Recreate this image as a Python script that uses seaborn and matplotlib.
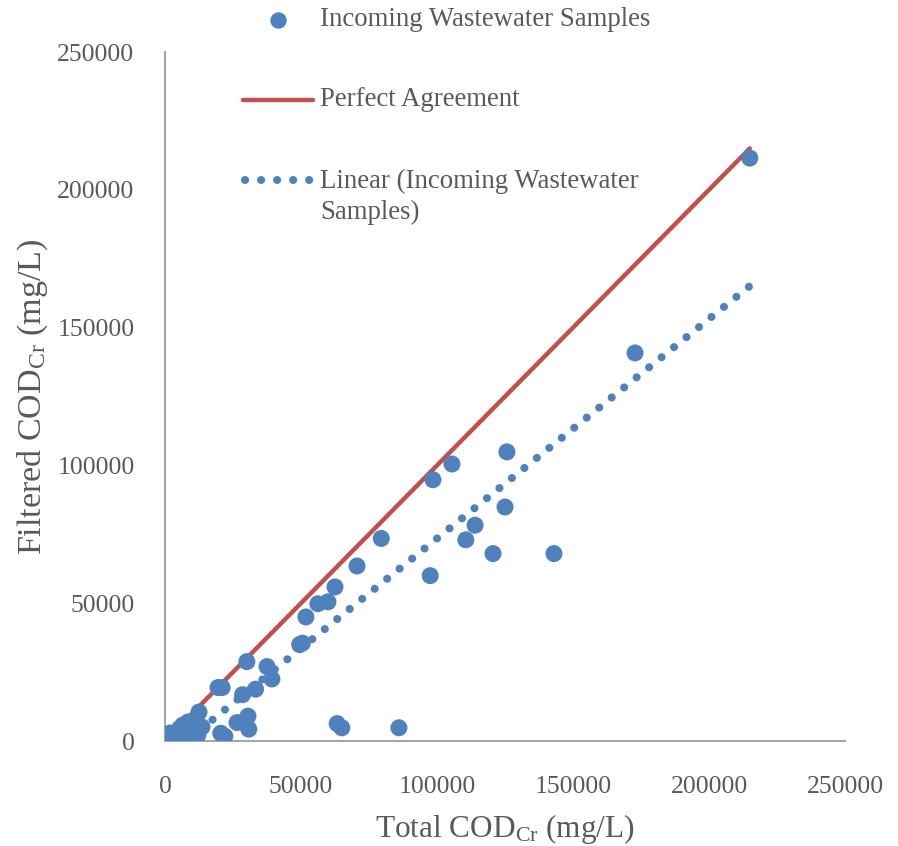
import numpy as np
import pandas as pd
import matplotlib
matplotlib.use("Agg")
import matplotlib.pyplot as plt
import seaborn as sns
from matplotlib.lines import Line2D

# ---- data ----
total_cod = [
    215000, 172800, 125700, 105500, 98500, 125000, 114000, 110600, 120600, 143000,
    97500, 79500, 70600, 62500, 59900, 56200, 51800, 49500, 50500, 63300,
    65000, 86000, 30100, 37500, 39300, 19500, 21000, 33300, 28500, 12500,
    30500, 26500, 30800, 20500, 22000, 500, 1800, 4800, 6600, 8500,
    11000, 8100, 12100, 3700, 5500, 9900, 13600, 2500, 7000,
]
filtered_cod = [
    211500, 140800, 104900, 100500, 94800, 84900, 78300, 73000, 68000, 68000,
    60000, 73500, 63500, 55900, 50500, 49800, 45000, 35000, 35500, 6300,
    4800, 4800, 28800, 27000, 22500, 19400, 19400, 18800, 16800, 10500,
    9000, 6700, 4300, 2800, 1700, 300, 2900, 2900, 5800, 6900,
    4000, 1500, 2200, 400, 4700, 5800, 5100, 1500, 3500,
]
perfect_x = [0, 215000]
perfect_y = [0, 215000]
x_ticks = [0, 50000, 100000, 150000, 200000, 250000]
y_ticks = [0, 50000, 100000, 150000, 200000, 250000]
legend_labels = ["Incoming Wastewater Samples", "Perfect Agreement",
                 "Linear (Incoming Wastewater\nSamples)"]
x_label = "Total COD$_{\\mathrm{Cr}}$ (mg/L)"
y_label = "Filtered COD$_{\\mathrm{Cr}}$ (mg/L)"

# ---- style ----
sns.set_style("white")
plt.rcParams['font.family'] = ['Liberation Serif', 'DejaVu Serif']
plt.rcParams['mathtext.fontset'] = 'custom'
plt.rcParams['mathtext.rm'] = 'Liberation Serif'
plt.rcParams['mathtext.it'] = 'Liberation Serif:italic'
plt.rcParams['mathtext.bf'] = 'Liberation Serif:bold'

BLUE = '#4F81BD'
RED = '#C0504D'
GRAY = '#595959'
AXC = '#A6A6A6'
FS_TICK = 18.5
FS_LEG = 19.3

W, H = 898, 846
fig = plt.figure(figsize=(W / 100, H / 100), dpi=100)
ax = fig.add_axes([165 / W, 105 / H, 680 / W, 689 / H])

df = pd.DataFrame({'total': total_cod, 'filtered': filtered_cod})

trend_style = dict(color=BLUE, lw=5.8, linestyle=(0.6, (0.01, 1.98)),
                   dash_capstyle='round', zorder=4)
legend_dot_style = dict(color=BLUE, lw=5.8, linestyle=(0, (0.01, 1.98)),
                        dash_capstyle='round')

sns.lineplot(x=perfect_x, y=perfect_y, ax=ax, color=RED, lw=3.2, zorder=2)
sns.scatterplot(data=df, x='total', y='filtered', ax=ax, s=150, color=BLUE,
                edgecolor='none', linewidth=0, zorder=3, legend=False)
sns.regplot(data=df, x='total', y='filtered', ax=ax, scatter=False, ci=None,
            line_kws=trend_style)

ax.set_xlim(0, 250000)
ax.set_ylim(0, 250000)
ax.set_xticks(x_ticks)
ax.set_yticks(y_ticks)
ax.set_xticklabels([str(v) for v in x_ticks])
ax.set_yticklabels([str(v) for v in y_ticks])
ax.tick_params(axis='x', direction='in', length=6, width=1.2, color=AXC,
               labelsize=FS_TICK, labelcolor=GRAY, pad=25)
ax.tick_params(axis='y', direction='in', length=6, width=1.2, color=AXC,
               labelsize=FS_TICK, labelcolor=GRAY, pad=22)
for s in ['top', 'right']:
    ax.spines[s].set_visible(False)
for s in ['left', 'bottom']:
    ax.spines[s].set_color(AXC)
    ax.spines[s].set_linewidth(1.5)
ax.set_xlabel(x_label, fontsize=22.5, color=GRAY, labelpad=10)
ax.set_ylabel(y_label, fontsize=24.5, color=GRAY, labelpad=5)
ax.grid(False)

# ---- legend (drawn in figure pixel coordinates) ----
def fx(px):
    return px / W

def fy(py):
    return 1 - py / H

fig.add_artist(Line2D([fx(278)], [fy(20)], marker='o', markersize=11.8,
                      color=BLUE, markeredgewidth=0, linestyle='none'))
fig.add_artist(Line2D([fx(243), fx(313)], [fy(100), fy(100)], color=RED, lw=3.2))
fig.add_artist(Line2D([fx(245), fx(313)], [fy(180), fy(180)], **legend_dot_style))
text_kw = dict(fontsize=FS_LEG, color=GRAY, ha='left')
fig.text(fx(320), fy(20), legend_labels[0], va='center', **text_kw)
fig.text(fx(320), fy(100), legend_labels[1], va='center', **text_kw)
fig.text(fx(320), fy(169), legend_labels[2], va='top', linespacing=1.28, **text_kw)

fig.savefig("out.png", dpi=100)
